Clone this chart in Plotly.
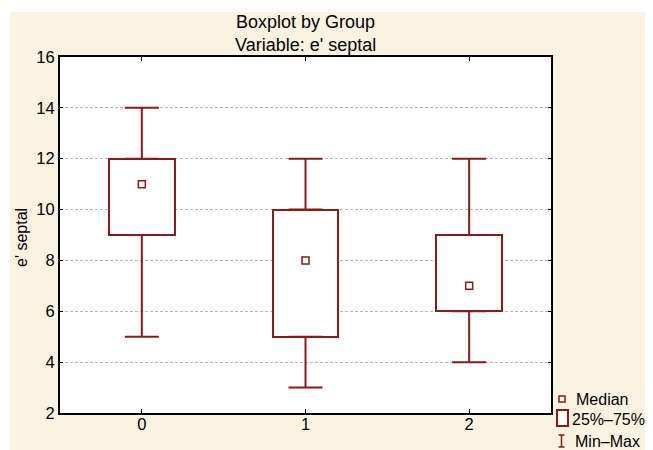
import plotly.graph_objects as go

# ---- data ----
groups = ["0", "1", "2"]
minimum = [5, 3, 4]
q1 = [9, 5, 6]
median = [11, 8, 7]
q3 = [12, 10, 9]
maximum = [14, 12, 12]
y_ticks = [2, 4, 6, 8, 10, 12, 14, 16]

RED = "#8B1A1A"
BEIGE = "#FBF3E2"
OFF = 8                       # page body margin
W, H = 653, 450               # window size
PL, PR, PT, PB = 60, 551, 57, 413   # plot area in window pixels
PW, PH = PR - PL, PB - PT


def px(x):
    return (x - PL) / PW


def py(y):
    return (PB - y) / PH


fig = go.Figure()

# boxes (25%-75%)
fig.add_trace(go.Bar(
    x=groups, y=[b - a for a, b in zip(q1, q3)], base=q1, width=0.40,
    marker=dict(color="white", line=dict(color=RED, width=2)),
    hoverinfo="skip", showlegend=False))

# upper whiskers
fig.add_trace(go.Scatter(
    x=groups, y=q3, mode="markers", marker=dict(size=1, color="rgba(0,0,0,0)"),
    error_y=dict(type="data", symmetric=False,
                 array=[m - q for m, q in zip(maximum, q3)],
                 arrayminus=[0, 0, 0], color=RED, thickness=2, width=17),
    hoverinfo="skip", showlegend=False))
# lower whiskers
fig.add_trace(go.Scatter(
    x=groups, y=q1, mode="markers", marker=dict(size=1, color="rgba(0,0,0,0)"),
    error_y=dict(type="data", symmetric=False,
                 array=[0, 0, 0],
                 arrayminus=[q - m for q, m in zip(q1, minimum)],
                 color=RED, thickness=2, width=17),
    hoverinfo="skip", showlegend=False))

# medians
fig.add_trace(go.Scatter(
    x=groups, y=median, mode="markers",
    marker=dict(symbol="square-open", size=7, color=RED, line=dict(width=1.5)),
    hoverinfo="skip", showlegend=False))

shapes = [
    # white outer strips
    dict(type="rect", xref="paper", yref="paper", x0=px(0), x1=px(W + 20), y0=py(12), y1=py(0),
         fillcolor="white", line=dict(width=0), layer="below"),
    dict(type="rect", xref="paper", yref="paper", x0=px(0), x1=px(10), y0=py(H + 20), y1=py(0),
         fillcolor="white", line=dict(width=0), layer="below"),
    # legend glyphs
    dict(type="rect", xref="paper", yref="paper", x0=px(559), x1=px(565), y0=py(402), y1=py(396),
         fillcolor="white", line=dict(color=RED, width=1.5)),
    dict(type="rect", xref="paper", yref="paper", x0=px(557), x1=px(568), y0=py(426), y1=py(410),
         fillcolor="white", line=dict(color=RED, width=2)),
    dict(type="line", xref="paper", yref="paper", x0=px(561.5), x1=px(561.5), y0=py(447), y1=py(435),
         line=dict(color=RED, width=1.5)),
    dict(type="line", xref="paper", yref="paper", x0=px(558.5), x1=px(564.5), y0=py(435), y1=py(435),
         line=dict(color=RED, width=1.5)),
    dict(type="line", xref="paper", yref="paper", x0=px(558.5), x1=px(564.5), y0=py(447), y1=py(447),
         line=dict(color=RED, width=1.5)),
]

FONT = "Liberation Sans, Arial, sans-serif"


def ann(text, x, y, size, xanchor="left", angle=0):
    return dict(text=text, xref="paper", yref="paper", x=px(x), y=py(y), textangle=angle,
                showarrow=False, font=dict(size=size, color="black", family=FONT),
                xanchor=xanchor, yanchor="middle")


annotations = [
    ann("Boxplot by Group<br>Variable: e' septal", 305.5, 34, 18, "center"),
    ann("e' septal", 21, 238, 16, "center", -90),
    ann("Median", 574, 399, 16),
    ann("25%–75%", 570, 419, 16),
    ann("Min–Max", 573, 441, 16),
]

fig.update_layout(
    width=W - OFF, height=H - OFF,
    margin=dict(l=PL - OFF, r=W - PR, t=PT - OFF, b=H - PB, pad=0),
    paper_bgcolor=BEIGE, plot_bgcolor="white",
    font=dict(family=FONT, size=16.5, color="black"),
    shapes=shapes, annotations=annotations,
    showlegend=False, bargap=0,
)
fig.update_xaxes(
    type="category", range=[-0.5, 2.5], showline=True, linecolor="black", linewidth=2,
    mirror="ticks", ticks="inside", ticklen=4, tickcolor="black", tickwidth=1,
    showgrid=False, zeroline=False, tickfont=dict(size=16.5, family=FONT),
    ticklabelstandoff=-5,
)
fig.update_yaxes(
    range=[2, 16], tickvals=y_ticks, showline=True, linecolor="black", linewidth=2,
    mirror="ticks", ticks="inside", ticklen=3, tickcolor="black", tickwidth=1,
    showgrid=True, gridcolor="#b8b8b8", griddash="3px,2px", gridwidth=1,
    zeroline=False, tickfont=dict(size=16.5, family=FONT),
)

fig.write_html("out.html")
